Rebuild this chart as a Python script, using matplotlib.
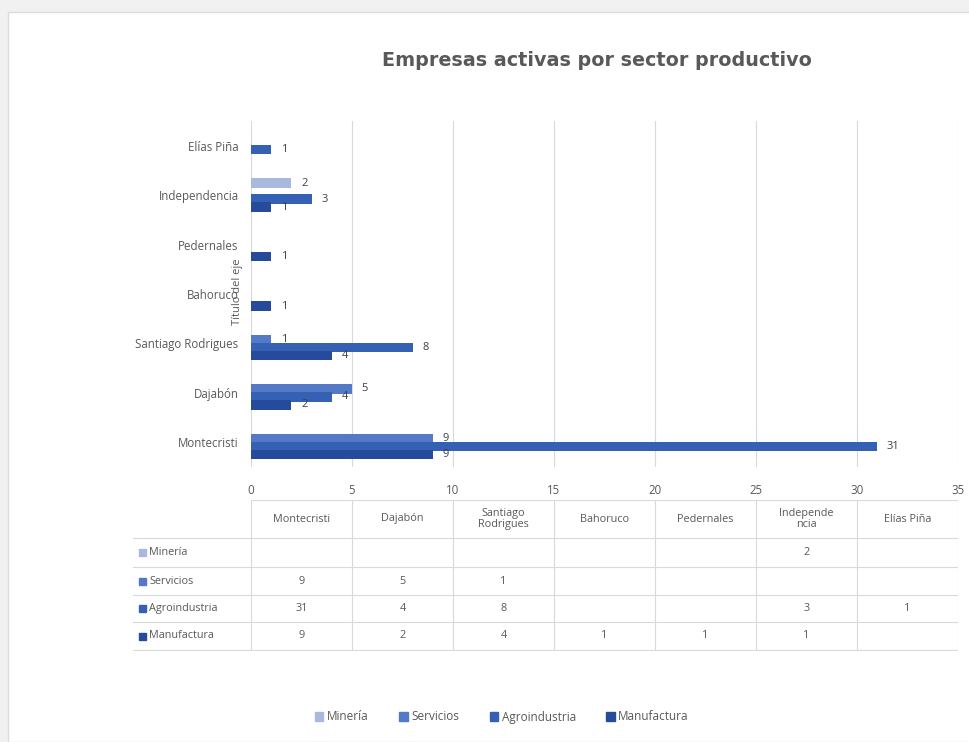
import matplotlib.pyplot as plt
from matplotlib.patches import Patch, Rectangle
import numpy as np

plt.rcParams["font.family"] = ["Open Sans", "DejaVu Sans"]

# data (bottom to top, as Excel draws the categories)
provincias = ["Montecristi", "Dajabón", "Santiago Rodrigues", "Bahoruco",
              "Pedernales", "Independencia", "Elías Piña"]
encabezados = ["Montecristi", "Dajabón", "Santiago\nRodrigues", "Bahoruco",
               "Pedernales", "Independe\nncia", "Elías Piña"]
series = ["Minería", "Servicios", "Agroindustria", "Manufactura"]
mineria = [None, None, None, None, None, 2, None]
servicios = [9, 5, 1, None, None, None, None]
agroindustria = [31, 4, 8, None, None, 3, 1]
manufactura = [9, 2, 4, 1, 1, 1, None]
valores = [mineria, servicios, agroindustria, manufactura]

colores = ["#a9b8dd", "#5479c6", "#3461b3", "#264a9c"]
offsets = [0.243, 0.081, -0.081, -0.243]
gris = "#595959"

fig = plt.figure(figsize=(9.7, 7.42), dpi=100)
fig.patch.set_facecolor("#f1f1f1")
W, H = 970, 742


def px(x0, y0, x1, y1):
    # convert pixel box (top-left origin) to figure fractions
    return [x0 / W, 1 - y1 / H, (x1 - x0) / W, (y1 - y0) / H]


fig.patches.append(Rectangle((8 / W, 0), 1, 1 - 12 / H, transform=fig.transFigure,
                             facecolor="white", edgecolor="#dcdcdc", lw=1, zorder=-10))

ax = fig.add_axes(px(251, 121, 958, 467))
ax.set_facecolor("none")
y = np.arange(len(provincias))
for vals, col, off in zip(valores, colores, offsets):
    for i, v in enumerate(vals):
        if v is None:
            continue
        ax.barh(y[i] + off, v, height=0.19, color=col, zorder=3)
        ax.annotate(str(v), (v, y[i] + off), xytext=(7, 0), textcoords="offset points",
                    ha="left", va="center", fontsize=8, color="#404040", zorder=4)

ax.set_xlim(0, 35)
ax.set_ylim(-0.5, len(provincias) - 0.5)
ax.set_xticks(range(0, 36, 5))
ax.set_yticks(y)
ax.set_yticklabels(provincias)
ax.tick_params(axis="both", length=0, labelsize=8.3, labelcolor=gris)
ax.tick_params(axis="x", pad=12)
ax.tick_params(axis="y", pad=9)
ax.grid(axis="x", color="#d9d9d9", lw=0.8, zorder=0)
for s in ax.spines.values():
    s.set_visible(False)
ax.set_ylabel("Título del eje", fontsize=8, color=gris)
ax.yaxis.set_label_coords(-0.011, 0.506)

fig.text(597 / W, 1 - 60 / H, "Empresas activas por sector productivo", ha="center",
         va="center", fontsize=13.8, fontweight="bold", color=gris,
         family=["DejaVu Sans"])

# data table under the chart
tx = fig.add_axes(px(133, 500, 958, 651))
tx.set_xlim(-118 / 101, 7)
tx.set_ylim(651, 500)
tx.axis("off")
lc = "#d9d9d9"
tx.plot([0, 7], [500, 500], color=lc, lw=0.8)
for yy in [538, 567, 595, 622, 650]:
    tx.plot([-118 / 101, 7], [yy, yy], color=lc, lw=0.8)
for xx in range(8):
    tx.plot([xx, xx], [500, 650], color=lc, lw=0.8)
for j, h in enumerate(encabezados):
    tx.text(j + 0.5, 519, h, ha="center", va="center", fontsize=7.8, color=gris,
            linespacing=1.0)
filas = [538, 567, 595, 622, 650]
for r, (nombre, vals, col) in enumerate(zip(series, valores, colores)):
    yc = (filas[r] + filas[r + 1]) / 2
    tx.add_patch(Rectangle((-112 / 101, yc - 3.5), 7 / 101, 7, color=col))
    tx.text(-102 / 101, yc, nombre, ha="left", va="center", fontsize=7.8, color=gris)
    for j, v in enumerate(vals):
        if v is not None:
            tx.text(j + 0.5, yc, str(v), ha="center", va="center", fontsize=7.8,
                    color=gris)

handles = [Patch(color=c, label=n) for c, n in zip(colores, series)]
fig.legend(handles=handles, loc="center", bbox_to_anchor=(502 / W, 1 - 717 / H),
           ncol=4, frameon=False, fontsize=8.5, handlelength=0.7, handleheight=0.7,
           handletextpad=0.3, columnspacing=2.6, labelcolor=gris)

fig.savefig("out.png", dpi=100, facecolor=fig.get_facecolor())
